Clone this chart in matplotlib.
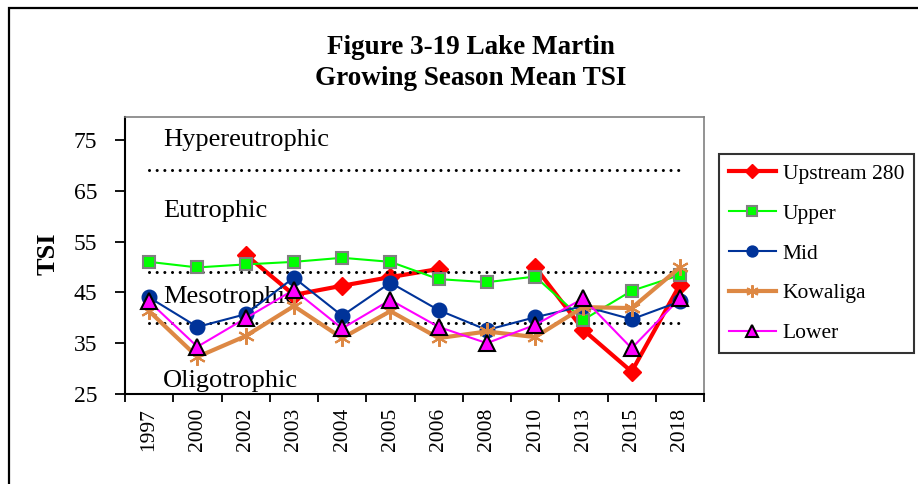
import numpy as np
import matplotlib
matplotlib.use("Agg")
import matplotlib.pyplot as plt
from matplotlib.patches import Rectangle

plt.rcParams['font.family'] = ['Liberation Serif', 'DejaVu Serif']

years = ["1997", "2000", "2002", "2003", "2004", "2005", "2006", "2008", "2010", "2013", "2015", "2018"]
upstream280 = [np.nan, np.nan, 52.4, 44.5, 46.3, 48.0, 49.6, np.nan, 50.0, 37.6, 29.4, 46.5]
upper = [51.0, 49.9, 50.5, 51.0, 51.8, 51.0, 47.6, 47.0, 48.1, 39.6, 45.3, 48.4]
mid = [44.0, 38.2, 40.7, 47.9, 40.4, 46.9, 41.5, 37.6, 40.1, 42.3, 39.7, 43.2]
kowaliga = [41.3, 32.3, 36.4, 42.3, 36.0, 41.3, 36.0, 37.3, 36.2, 42.1, 41.9, 49.9]
lower = [43.2, 34.3, 39.9, 45.5, 37.9, 43.5, 38.2, 35.0, 38.6, 43.8, 34.0, 43.8]
boundaries = [69, 49, 39]
zone_labels = ["Hypereutrophic", "Eutrophic", "Mesotrophic", "Oligotrophic"]
zone_label_y = [75.0, 61.0, 44.1, 27.6]
yticks = [25, 35, 45, 55, 65, 75]

W, H = 918, 484
fig = plt.figure(figsize=(W / 100, H / 100), dpi=100)
ax = fig.add_axes([125 / W, 1 - 394 / H, (704 - 125) / W, (394 - 117) / H])

x = np.arange(len(years))

# outer chart border
fig.patches.append(Rectangle((9 / W, -0.1), 1.2, 1 - 8 / H + 0.1, transform=fig.transFigure,
                             fill=False, edgecolor='black', linewidth=1.6, zorder=0))

l1, = ax.plot(x, upstream280, color='#FF0000', lw=3.0, marker='D', ms=9.5,
              mfc='#FF0000', mec='#FF0000', zorder=3, label='Upstream 280')
for b in boundaries:
    ax.plot([x[0], x[-1]], [b, b], color='black', lw=2.2, linestyle=(0, (0.01, 2.5)),
            dash_capstyle='round', zorder=3.5)
l2, = ax.plot(x, upper, color='#00FF00', lw=1.5, marker='s', ms=9,
              mfc='#00FF00', mec='#808080', mew=1.5, zorder=4, label='Upper')
l3, = ax.plot(x, mid, color='#003399', lw=1.5, marker='o', ms=10.5,
              mfc='#003399', mec='#003399', zorder=5, label='Mid')
l4, = ax.plot(x, kowaliga, color='#DD8844', lw=3.0, marker=(6, 2, 0), ms=12,
              mfc='#DD8844', mec='#DD8844', mew=1.5, zorder=6, label='Kowaliga')
l5, = ax.plot(x, lower, color='#FF00FF', lw=1.5, marker='^', ms=11,
              mfc='#FF00FF', mec='black', mew=1.5, zorder=7, label='Lower')

for lab, yy in zip(zone_labels, zone_label_y):
    ax.text(0.29, yy, lab, fontsize=19, ha='left', va='center', zorder=2)

ax.set_xlim(-0.5, len(years) - 0.5)
ax.set_ylim(25, 79.5)
ax.set_yticks(yticks)
ax.set_yticklabels([str(t) for t in yticks], fontsize=17)
ax.tick_params(axis='y', direction='out', length=7, width=1.3, pad=13)

ax.set_xticks(np.arange(len(years) + 1) - 0.5)
ax.set_xticklabels([])
ax.tick_params(axis='x', which='major', direction='out', length=6, width=1.3)
ax.set_xticks(x, minor=True)
ax.set_xticklabels(years, minor=True, rotation=90, fontsize=15.5)
ax.tick_params(axis='x', which='minor', length=0, pad=10)

for s in ['left', 'bottom']:
    ax.spines[s].set_color('black')
    ax.spines[s].set_linewidth(1.5)
for s in ['top', 'right']:
    ax.spines[s].set_color('#808080')
    ax.spines[s].set_linewidth(1.2)

fig.text(48 / W, 1 - 254 / H, 'TSI', rotation=90, fontsize=19, fontweight='bold',
         ha='center', va='center')
fig.text(471 / W, 1 - 63 / H, 'Figure 3-19 Lake Martin\nGrowing Season Mean TSI',
         fontsize=19.5, fontweight='bold', ha='center', va='center', linespacing=1.3)

leg = fig.legend(handles=[l1, l2, l3, l4, l5], loc='upper left',
                 bbox_to_anchor=(719 / W, 1 - 154 / H), bbox_transform=fig.transFigure,
                 fontsize=15.5, frameon=True, fancybox=False, edgecolor='black',
                 handlelength=2.2, handletextpad=0.3, labelspacing=0.92,
                 borderpad=0.45, borderaxespad=0)
leg.get_frame().set_linewidth(1.5)
for h in leg.legend_handles:
    h.set_markersize(h.get_markersize() * 0.75)

fig.savefig('out.png', dpi=100)
